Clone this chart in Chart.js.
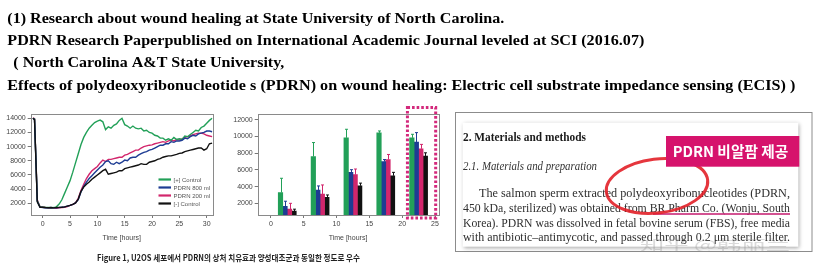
<!DOCTYPE html>
<html>
<head>
<meta charset="utf-8">
<script src="https://cdn.jsdelivr.net/npm/chart.js@4.4.0/dist/chart.umd.min.js"></script>
<style>
  html, body { margin: 0; padding: 0; background: #fff; }
  #pagina { position: relative; width: 814px; height: 272px; overflow: hidden; }
  canvas { position: absolute; }
  #fundo { left: 0; top: 0; }
  #curvas { left: 0; top: 105px; }
  #barras { left: 225px; top: 105px; }
</style>
</head>
<body>
<div id="pagina">
  <canvas id="fundo" width="814" height="272"></canvas>
  <canvas id="curvas" width="222" height="140"></canvas>
  <canvas id="barras" width="222" height="140"></canvas>
</div>
<script>
// ── Dados: gráfico de linhas (ECIS) ─────────────────────────────
const TEMPOS = [-1.8, -1.5, -1.2, -1.0, -0.5,
    0, 0.5, 1, 1.5, 2, 2.5, 3, 3.5, 4, 4.5,
    5, 5.5, 6, 6.5, 7, 7.5, 8, 8.5, 9, 9.5,
    10, 10.5, 11, 11.5, 12, 12.5, 13, 13.5, 14, 14.5,
    15, 15.5, 16, 16.5, 17, 17.5, 18, 18.5, 19, 19.5,
    20, 20.5, 21, 21.5, 22, 22.5, 23, 23.5, 24, 24.5,
    25, 25.5, 26, 26.5, 27, 27.5, 28, 28.5, 29, 29.5,
    30, 30.5, 31];

const CONTROLE_POS = [14000, 13900, 7200, 2400, 1500,
    1450, 1400, 1420, 1380, 1400, 1500, 1900, 2500, 3400, 4300,
    5200, 6400, 7700, 9000, 10300, 11300, 12000, 12600, 13000, 13400,
    13600, 13750, 13500, 12400, 12800, 12600, 13000, 13200, 13700, 14000,
    13100, 12900, 12600, 12900, 12600, 12500, 12600, 12200, 12300, 12000,
    11900, 11600, 11500, 11200, 11200, 10900, 11100, 10900, 11300, 11000,
    11100, 11000, 11500, 11400, 11700, 12000, 12300, 12200, 12700, 12900,
    13300, 13700, 14000];

const PDRN_800 = [14000, 13850, 7000, 2300, 1450,
    1400, 1380, 1350, 1400, 1350, 1380, 1400, 1450, 1500, 1600,
    1700, 1850, 2050, 2500, 3600, 4400, 5000, 5500, 5900, 6300,
    6700, 7100, 7400, 7900, 8000, 7600, 7500, 7800, 7600, 7800,
    8100, 8000, 8400, 8500, 8500, 8800, 9000, 9200, 9300, 9500,
    9600, 9800, 10000, 10200, 10200, 10400, 10400, 10700, 10600, 10800,
    10800, 10900, 11200, 11100, 11400, 11600, 11500, 11800, 11900, 12000,
    12200, 12200, 12100];

const PDRN_200 = [14050, 13950, 7300, 2500, 1500,
    1450, 1400, 1380, 1350, 1350, 1300, 1350, 1400, 1450, 1550,
    1700, 1850, 2050, 2700, 3800, 4700, 5500, 6100, 6600, 6900,
    7200, 7700, 8100, 7900, 8200, 8200, 8300, 8400, 8500, 8500,
    8800, 8900, 9100, 9300, 9500, 9500, 9800, 10000, 10100, 10200,
    10250, 10400, 10500, 10600, 10700, 10600, 10800, 10900, 10800, 11000,
    10950, 11100, 11300, 11400, 11500, 11700, 11800, 11900, 11900, 11800,
    11600, 11500, 11400];

const CONTROLE_NEG = [14000, 13800, 6900, 2200, 1450,
    1450, 1400, 1380, 1400, 1350, 1400, 1420, 1450, 1500, 1600,
    1700, 1850, 2050, 2600, 3700, 4300, 4700, 5000, 5400, 5700,
    6000, 6300, 6600, 6800, 6100, 6200, 6300, 6400, 6600, 6600,
    6900, 7000, 7100, 7200, 7300, 7400, 7600, 7500, 7500, 7800,
    7900, 8000, 8200, 8300, 8500, 8600, 8700, 8700, 8800, 8900,
    9050, 9100, 9300, 9400, 9500, 9600, 9700, 9800, 9800, 9500,
    9700, 10400, 10500];

const TICKS_X_LINHA = [0, 5, 10, 15, 20, 25, 30];
const TICKS_Y_LINHA = [2000, 4000, 6000, 8000, 10000, 12000, 14000];

// ── Dados: gráfico de barras ────────────────────────────────────
const GRUPOS_X = [2.5, 7.5, 12.5, 17.5, 22.5];
const BARRA_POS = [3300, 7600, 9850, 10450, 9850];
const BARRA_800 = [1650, 3600, 5700, 7000, 9350];
const BARRA_200 = [1300, 3120, 5430, 7240, 8530];
const BARRA_NEG = [1080, 2720, 4100, 5300, 7650];
const ERRO_POS = [1700, 1680, 1020, 220, 420];
const ERRO_800 = [600, 480, 330, 240, 1120];
const ERRO_200 = [700, 1080, 680, 610, 530];
const ERRO_NEG = [220, 280, 320, 410, 400];

const TICKS_X_BARRA = [0, 5, 10, 15, 20, 25];
const TICKS_Y_BARRA = [2000, 4000, 6000, 8000, 10000, 12000];

const LEGENDAS = ['[+] Control', 'PDRN 800 ml', 'PDRN 200 ml', '[-] Control'];

const VERDE = '#22a058';
const AZUL = '#1d3c93';
const ROSA = '#d2266c';
const PRETO = '#111111';

const FONTE_EIXO = { family: '"Liberation Sans", Arial, sans-serif', size: 7 };

// ── Plugins ─────────────────────────────────────────────────────
const moldura = {
    id: 'moldura',
    afterDraw(chart) {
        const a = chart.chartArea;
        const ctx = chart.ctx;
        ctx.save();
        ctx.strokeStyle = '#8a8a8a';
        ctx.lineWidth = 1;
        ctx.strokeRect(Math.round(a.left) + 0.5, Math.round(a.top) + 0.5,
            Math.round(a.right - a.left), Math.round(a.bottom - a.top));
        ctx.restore();
    }
};

const legendaInterna = {
    id: 'legendaInterna',
    afterDraw(chart) {
        const ctx = chart.ctx;
        const cores = [VERDE, AZUL, ROSA, PRETO];
        ctx.save();
        ctx.font = '6px "Liberation Sans", Arial, sans-serif';
        ctx.textBaseline = 'middle';
        LEGENDAS.forEach((txt, i) => {
            const y = 74.5 + 8 * i;
            ctx.strokeStyle = cores[i];
            ctx.lineWidth = 2.2;
            ctx.beginPath();
            ctx.moveTo(158.5, y);
            ctx.lineTo(171, y);
            ctx.stroke();
            ctx.fillStyle = '#555';
            ctx.fillText(txt, 173.5, y + 0.5);
        });
        ctx.restore();
    }
};

const barrasErro = {
    id: 'barrasErro',
    afterDatasetsDraw(chart) {
        const ctx = chart.ctx;
        const y = chart.scales.y;
        ctx.save();
        ctx.lineWidth = 1;
        chart.data.datasets.forEach((ds, i) => {
            const meta = chart.getDatasetMeta(i);
            meta.data.forEach((bar, j) => {
                const topo = y.getPixelForValue(ds.data[j].y + ds.erros[j]);
                const x = Math.round(bar.x) + 0.5;
                ctx.strokeStyle = ds.corErro;
                ctx.beginPath();
                ctx.moveTo(x, bar.y);
                ctx.lineTo(x, topo);
                ctx.moveTo(x - 1.5, topo);
                ctx.lineTo(x + 1.5, topo);
                ctx.stroke();
            });
        });
        ctx.restore();
    }
};

const destaque = {
    id: 'destaque',
    afterDraw(chart) {
        const ctx = chart.ctx;
        const a = chart.chartArea;
        const x1 = chart.scales.x.getPixelForValue(20.8);
        const x2 = chart.scales.x.getPixelForValue(25.1);
        ctx.save();
        ctx.strokeStyle = '#d3297c';
        ctx.lineWidth = 3;
        ctx.setLineDash([2.6, 2]);
        ctx.strokeRect(x1, a.top - 6.5, x2 - x1, a.bottom - a.top + 9.5);
        ctx.restore();
    }
};

// ── Gráfico: curvas ECIS ────────────────────────────────────────
function pontos(valores) {
    return TEMPOS.map((t, i) => ({ x: t, y: valores[i] }));
}

function eixoX(min, max, ticks) {
    return {
        type: 'linear', min, max, offset: false,
        afterBuildTicks: s => { s.ticks = ticks.map(v => ({ value: v })); },
        afterFit: s => { s.height = 30; },
        border: { display: false },
        grid: { drawOnChartArea: false, offset: false, tickLength: 3, color: '#777' },
        ticks: { font: FONTE_EIXO, color: '#444', padding: 2, maxRotation: 0, autoSkip: false, callback: v => String(v) },
        title: { display: true, text: 'Time [hours]', font: FONTE_EIXO, color: '#444', padding: { top: 2, bottom: 3 } }
    };
}

function eixoY(min, max, ticks, largura) {
    return {
        min, max,
        afterBuildTicks: s => { s.ticks = ticks.map(v => ({ value: v })); },
        afterFit: s => { s.width = largura; },
        border: { display: false },
        grid: { drawOnChartArea: false, tickLength: 3, color: '#777' },
        ticks: { font: FONTE_EIXO, color: '#444', padding: 2, callback: v => String(v) }
    };
}

new Chart(document.getElementById('curvas'), {
    type: 'line',
    data: {
        datasets: [
            { label: LEGENDAS[3], data: pontos(CONTROLE_NEG), borderColor: PRETO },
            { label: LEGENDAS[1], data: pontos(PDRN_800), borderColor: AZUL },
            { label: LEGENDAS[0], data: pontos(CONTROLE_POS), borderColor: VERDE },
            { label: LEGENDAS[2], data: pontos(PDRN_200), borderColor: ROSA }
        ]
    },
    options: {
        responsive: false,
        animation: false,
        layout: { padding: { top: 9.3, right: 9.3, left: 0, bottom: 0 } },
        elements: { point: { radius: 0 }, line: { borderWidth: 1.4, tension: 0 } },
        plugins: { legend: { display: false }, tooltip: { enabled: false } },
        scales: {
            x: eixoX(-2.2, 31.1, TICKS_X_LINHA),
            y: eixoY(350, 14560, TICKS_Y_LINHA, 30.7)
        }
    },
    plugins: [moldura, legendaInterna]
});

// ── Gráfico: barras com erro ────────────────────────────────────
function serieBarras(valores, erros, cor) {
    return {
        data: GRUPOS_X.map((x, i) => ({ x, y: valores[i] })),
        erros,
        corErro: cor,
        backgroundColor: cor,
        borderWidth: 0,
        barThickness: 4.5
    };
}

new Chart(document.getElementById('barras'), {
    type: 'bar',
    data: {
        datasets: [
            serieBarras(BARRA_POS, ERRO_POS, VERDE),
            serieBarras(BARRA_800, ERRO_800, AZUL),
            serieBarras(BARRA_200, ERRO_200, ROSA),
            serieBarras(BARRA_NEG, ERRO_NEG, PRETO)
        ]
    },
    options: {
        responsive: false,
        animation: false,
        layout: { padding: { top: 9, right: 8.7, left: 0, bottom: 0 } },
        plugins: { legend: { display: false }, tooltip: { enabled: false } },
        scales: {
            x: eixoX(-2.0, 25.5, TICKS_X_BARRA),
            y: eixoY(600, 12700, TICKS_Y_BARRA, 32.7)
        }
    },
    plugins: [moldura, barrasErro, destaque]
});

// ── Textos e recorte do artigo (canvas de fundo) ────────────────
function textoAjustado(ctx, txt, x, y, largura) {
    const w = ctx.measureText(txt).width;
    ctx.save();
    ctx.translate(x, y);
    ctx.scale(largura / w, 1);
    ctx.fillText(txt, 0, 0);
    ctx.restore();
}

const fundo = document.getElementById('fundo').getContext('2d');
fundo.textBaseline = 'alphabetic';

// cabeçalho
fundo.fillStyle = '#000';
fundo.font = 'bold 15.5px "Liberation Serif", "Times New Roman", serif';
textoAjustado(fundo, '(1) Research about wound healing at State University of North Carolina.', 7.3, 23.3, 497);
textoAjustado(fundo, 'PDRN Research Paperpublished on International Academic Journal leveled at SCI (2016.07)', 7.3, 45, 637);
textoAjustado(fundo, '( North Carolina A&T State University,', 13.3, 66.7, 271);
textoAjustado(fundo, 'Effects of polydeoxyribonucleotide s (PDRN) on wound healing: Electric cell substrate impedance sensing (ECIS) )', 7.3, 90, 788);

// legenda da figura
fundo.fillStyle = '#222';
fundo.font = 'bold 8.5px "Noto Sans CJK KR", sans-serif';
textoAjustado(fundo, 'Figure 1, U2OS 세포에서 PDRN의 상처 치유효과 양성대조군과 동일한 정도로 우수', 97, 261.3, 263);

// moldura do recorte
fundo.strokeStyle = '#8c8c8c';
fundo.lineWidth = 1;
fundo.strokeRect(455.5, 112.5, 356.5, 139);

fundo.save();
fundo.shadowColor = 'rgba(0,0,0,0.35)';
fundo.shadowBlur = 4;
fundo.shadowOffsetX = 1;
fundo.shadowOffsetY = 1;
fundo.fillStyle = '#fff';
fundo.fillRect(462.7, 122.7, 335.6, 124);
fundo.restore();

fundo.fillStyle = '#1a1a1a';
fundo.font = 'bold 13px "Liberation Serif", serif';
textoAjustado(fundo, '2. Materials and methods', 463, 140.5, 123);
fundo.font = 'italic 12.5px "Liberation Serif", serif';
fundo.fillStyle = '#333';
textoAjustado(fundo, '2.1. Materials and preparation', 463, 170, 134);

fundo.font = '11.5px "Liberation Serif", serif';
fundo.fillStyle = '#2e2e2e';
textoAjustado(fundo, 'The salmon sperm extracted polydeoxyribonucleotides (PDRN,', 479, 197.3, 311);
textoAjustado(fundo, '450 kDa, sterilized) was obtained from BR Pharm Co. (Wonju, South', 463, 212, 327);
textoAjustado(fundo, 'Korea). PDRN was dissolved in fetal bovine serum (FBS), free media', 463, 226.5, 327);
textoAjustado(fundo, 'with antibiotic–antimycotic, and passed through 0.2 μm sterile filter.', 463, 240.7, 327);

// sublinhado e círculo vermelho
fundo.strokeStyle = '#c41a6e';
fundo.lineWidth = 1.5;
fundo.beginPath();
fundo.moveTo(653, 214);
fundo.lineTo(790, 214);
fundo.stroke();

fundo.strokeStyle = 'rgba(226, 32, 40, 0.9)';
fundo.lineWidth = 3;
fundo.beginPath();
fundo.ellipse(657, 186, 51, 27, -0.12, 0, Math.PI * 2);
fundo.stroke();

// etiqueta rosa
fundo.fillStyle = '#d6136c';
fundo.fillRect(666, 136, 133.3, 30.7);
fundo.fillStyle = '#fff';
fundo.font = 'bold 15px "Noto Sans CJK KR", sans-serif';
textoAjustado(fundo, 'PDRN 비알팜 제공', 672.7, 156.5, 115.6);

// marca d'água
fundo.fillStyle = 'rgba(150,150,150,0.35)';
fundo.font = '14px "Noto Sans CJK SC", sans-serif';
textoAjustado(fundo, '知乎 @韩丽兰', 640, 250, 150);
</script>
</body>
</html>
